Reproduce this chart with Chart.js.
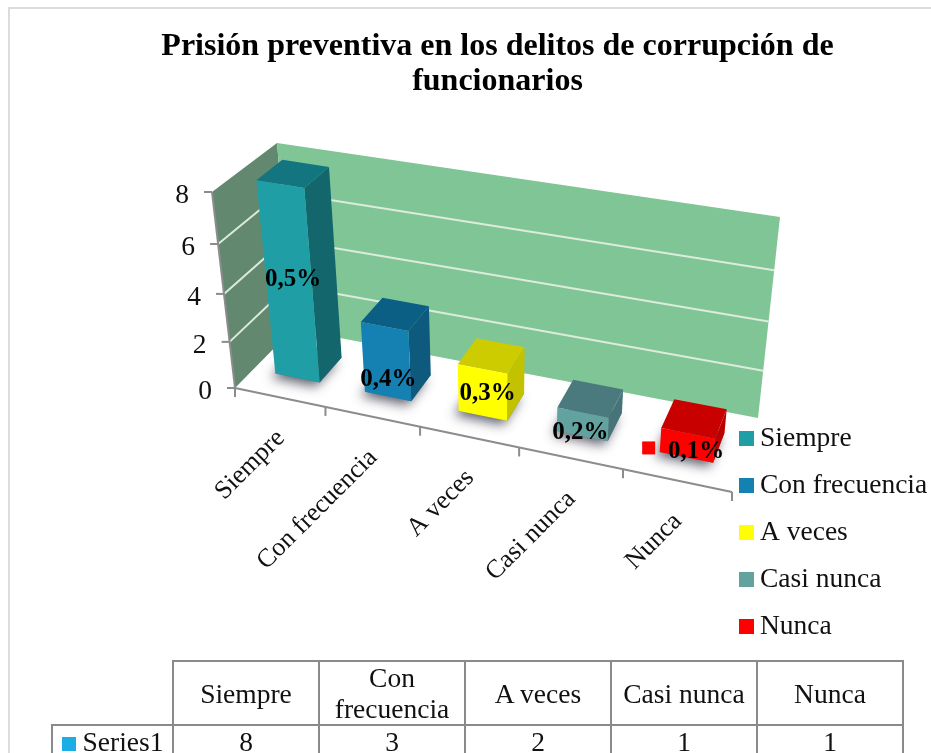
<!DOCTYPE html>
<html lang="es">
<head>
<meta charset="utf-8">
<title>Prisión preventiva</title>
<script src="https://cdn.jsdelivr.net/npm/chart.js@4/dist/chart.umd.js"></script>
<style>
html,body{margin:0;padding:0;background:#fff;width:931px;height:753px;overflow:hidden}
#wrap{position:relative;width:931px;height:753px;overflow:hidden}
canvas{position:absolute;left:0;top:0}
#frame{position:absolute;left:8px;top:7px;width:940px;height:780px;border:2px solid #dcdcdc;box-sizing:border-box}
#tbl{position:absolute;left:51px;top:660px;border-collapse:collapse;table-layout:fixed;font:27.5px "Liberation Serif",serif;color:#111}
#tbl td{border:2px solid #8a8a8a;text-align:center;padding:0;box-sizing:border-box;line-height:31px}
#tbl td.blank{border:none}
#tbl tr.head td{height:60px}
#tbl tr.row td{height:36px;vertical-align:top;padding-top:0}
#tbl .key{display:inline-block;width:14px;height:14px;background:#1cade4;margin-right:7px}
</style>
</head>
<body>
<div id="wrap">
<div id="frame"></div>
<canvas id="c" width="931" height="753"></canvas>
<table id="tbl"></table>
</div>
<script>
const categories = ["Siempre", "Con frecuencia", "A veces", "Casi nunca", "Nunca"];
const seriesName = "Series1";
const seriesValues = [8, 3, 2, 1, 1];
const dataLabels = ["0,5%", "0,4%", "0,3%", "0,2%", "0,1%"];
const tableHeaders = ["Siempre", "Con<br>frecuencia", "A veces", "Casi nunca", "Nunca"];
const titleLines = ["Prisión preventiva en los delitos de corrupción de", "funcionarios"];
const frontColors = ["#1f9ea6", "#1580b2", "#ffff00", "#62a3a0", "#ff0000"];
const topColors   = ["#12757f", "#0b5f85", "#cccc00", "#4a7a7d", "#c80000"];
const sideColors  = ["#12666c", "#0d5a7e", "#c2c200", "#467478", "#bb0000"];

const FONT = '"Liberation Serif", serif';

/* Perspective box of the 3-D plot: u along the categories, v up the value axis, w into depth */
const BOX = {
  f0l:[235,388], f0r:[732,492], b0l:[293,329], b0r:[758,418],
  f1l:[212,192], f1r:[750,283], b1l:[277,143], b1r:[780,217]
};
const warp = (t,k) => t*k/(1+(k-1)*t);
const mix = (a,b,t) => [a[0]+(b[0]-a[0])*t, a[1]+(b[1]-a[1])*t];
function project(u,v,w){
  const U = warp(u,0.89), V = warp(v,0.923);
  const f = mix(mix(BOX.f0l,BOX.f0r,U), mix(BOX.f1l,BOX.f1r,U), V);
  const b = mix(mix(BOX.b0l,BOX.b0r,U), mix(BOX.b1l,BOX.b1r,U), V);
  return mix(f,b,w);
}
function poly(ctx,pts,fill){
  ctx.beginPath();
  pts.forEach((p,i)=> i?ctx.lineTo(p[0],p[1]):ctx.moveTo(p[0],p[1]));
  ctx.closePath();
  ctx.fillStyle = fill;
  ctx.fill();
}
function line(ctx,a,b,color,width){
  ctx.beginPath();ctx.moveTo(a[0],a[1]);ctx.lineTo(b[0],b[1]);
  ctx.strokeStyle=color;ctx.lineWidth=width;ctx.stroke();
}

const bar3d = {
  id:'bar3d',
  beforeDatasetDraw(chart,args){
    const ctx = chart.ctx, xs = chart.scales.x, ys = chart.scales.y, area = chart.chartArea;
    const meta = chart.getDatasetMeta(args.index);
    const normX = px => (px-area.left)/area.width;
    const normY = px => (area.bottom-px)/area.height;
    ctx.save();
    // walls
    poly(ctx,[project(0,0,0),project(0,1,0),project(0,1,1),project(0,0,1)],'#62896f');
    poly(ctx,[project(0,0,1),project(0,1,1),project(1,1,1),project(1,0,1)],'#80c596');
    // value grid, ticks and labels
    ctx.lineCap='butt';
    ys.ticks.forEach(t=>{
      const v = normY(ys.getPixelForValue(t.value));
      const a = project(0,v,0);
      if(t.value>0 && t.value<ys.max){
        line(ctx,a,project(0,v,1),'#dcebdc',2);
        line(ctx,project(0,v,1),project(1,v,1),'#dcebdc',2);
      }
      line(ctx,[a[0]-8,a[1]],a,'#8c8c8c',2);
      ctx.fillStyle='#111';ctx.font='27.5px '+FONT;ctx.textAlign='right';ctx.textBaseline='middle';
      ctx.fillText(String(t.value),a[0]-23,a[1]+4);
    });
    // axes
    line(ctx,project(0,0,0),project(0,1,0),'#8c8c8c',2);
    line(ctx,project(0,0,0),project(1,0,0),'#8c8c8c',2);
    // category ticks and labels
    const n = xs.ticks.length;
    for(let i=0;i<=n;i++){
      const edge = i<n ? xs.getPixelForValue(i)-xs.width/n/2 : xs.right;
      const p = project(normX(edge),0,0);
      line(ctx,p,[p[0],p[1]+9],'#8c8c8c',2);
    }
    xs.ticks.forEach((t,i)=>{
      const p = project(normX(xs.getPixelForValue(i)),0,0);
      ctx.save();
      ctx.translate(p[0]+1,p[1]+37);
      ctx.rotate(-Math.PI/4);
      ctx.fillStyle='#111';ctx.font='26px '+FONT;ctx.textAlign='right';ctx.textBaseline='middle';
      ctx.fillText(categories[i],0,0);
      ctx.restore();
    });
    // bars
    const W0=0.32, W1=0.73;
    meta.data.forEach((el,i)=>{
      const u0=normX(el.x-el.width/2), u1=normX(el.x+el.width/2), v=normY(el.y);
      ctx.save();
      ctx.shadowColor='rgba(40,40,60,0.75)';ctx.shadowBlur=12;ctx.shadowOffsetX=-4;ctx.shadowOffsetY=4;
      poly(ctx,[project(u0,0,W0),project(u1,0,W0),project(u1,0,W1),project(u0,0,W1)],'#777');
      ctx.restore();
      poly(ctx,[project(u1,0,W0),project(u1,0,W1),project(u1,v,W1),project(u1,v,W0)],sideColors[i]);
      poly(ctx,[project(u0,v,W0),project(u1,v,W0),project(u1,v,W1),project(u0,v,W1)],topColors[i]);
      poly(ctx,[project(u0,0,W0),project(u1,0,W0),project(u1,v,W0),project(u0,v,W0)],frontColors[i]);
    });
    // data labels
    const nudge=[[4,-5],[2,18],[5,1],[-2,8],[9,6]];
    meta.data.forEach((el,i)=>{
      const p = project(normX(el.x),normY(el.y)/2,W0);
      ctx.fillStyle='#000';ctx.font='bold 25px '+FONT;ctx.textAlign='center';ctx.textBaseline='middle';
      const x=p[0]+nudge[i][0], y=p[1]+nudge[i][1];
      ctx.fillText(dataLabels[i],x,y);
      if(i===meta.data.length-1){ ctx.fillStyle=frontColors[i]; ctx.fillRect(x-54,y-10,13,13); }
    });
    ctx.restore();
    return false;
  },
  afterDraw(chart){
    // legend keyed to the categories, with the tight swatch-to-text gap of the reference
    const ctx = chart.ctx;
    ctx.save();
    ctx.font='27.5px '+FONT;ctx.textAlign='left';ctx.textBaseline='alphabetic';
    categories.forEach((c,i)=>{
      const rowY = 446+47*i;
      ctx.fillStyle=frontColors[i];
      ctx.fillRect(739,rowY-15,15,15);
      ctx.fillStyle='#111';
      ctx.fillText(c,760,rowY);
    });
    ctx.restore();
  }
};

new Chart(document.getElementById('c'),{
  type:'bar',
  data:{labels:categories,datasets:[{label:seriesName,data:seriesValues,backgroundColor:frontColors,barPercentage:0.5,categoryPercentage:1}]},
  plugins:[bar3d],
  options:{
    responsive:false,animation:false,
    layout:{padding:{left:64,top:0,right:0,bottom:0}},
    plugins:{
      tooltip:{enabled:false},
      legend:{display:false},
      title:{display:true,text:titleLines,color:'#000',align:'center',
        font:{family:FONT,size:32,weight:'bold',lineHeight:1.09},padding:{top:29,bottom:20}}
    },
    scales:{
      x:{display:false,grid:{display:false}},
      y:{display:false,min:0,max:8,ticks:{stepSize:2}}
    }
  }
});

const tbl=document.getElementById('tbl');
const colW=[121,146,146,146,146,146];
tbl.style.width=colW.reduce((a,b)=>a+b,0)+'px';
tbl.innerHTML='<colgroup>'+colW.map(w=>'<col style="width:'+w+'px">').join('')+'</colgroup>'
 +'<tr class="head"><td class="blank"></td>'+tableHeaders.map(h=>'<td>'+h+'</td>').join('')+'</tr>'
 +'<tr class="row"><td><span class="key"></span>'+seriesName+'</td>'+seriesValues.map(v=>'<td>'+v+'</td>').join('')+'</tr>';
</script>
</body>
</html>
